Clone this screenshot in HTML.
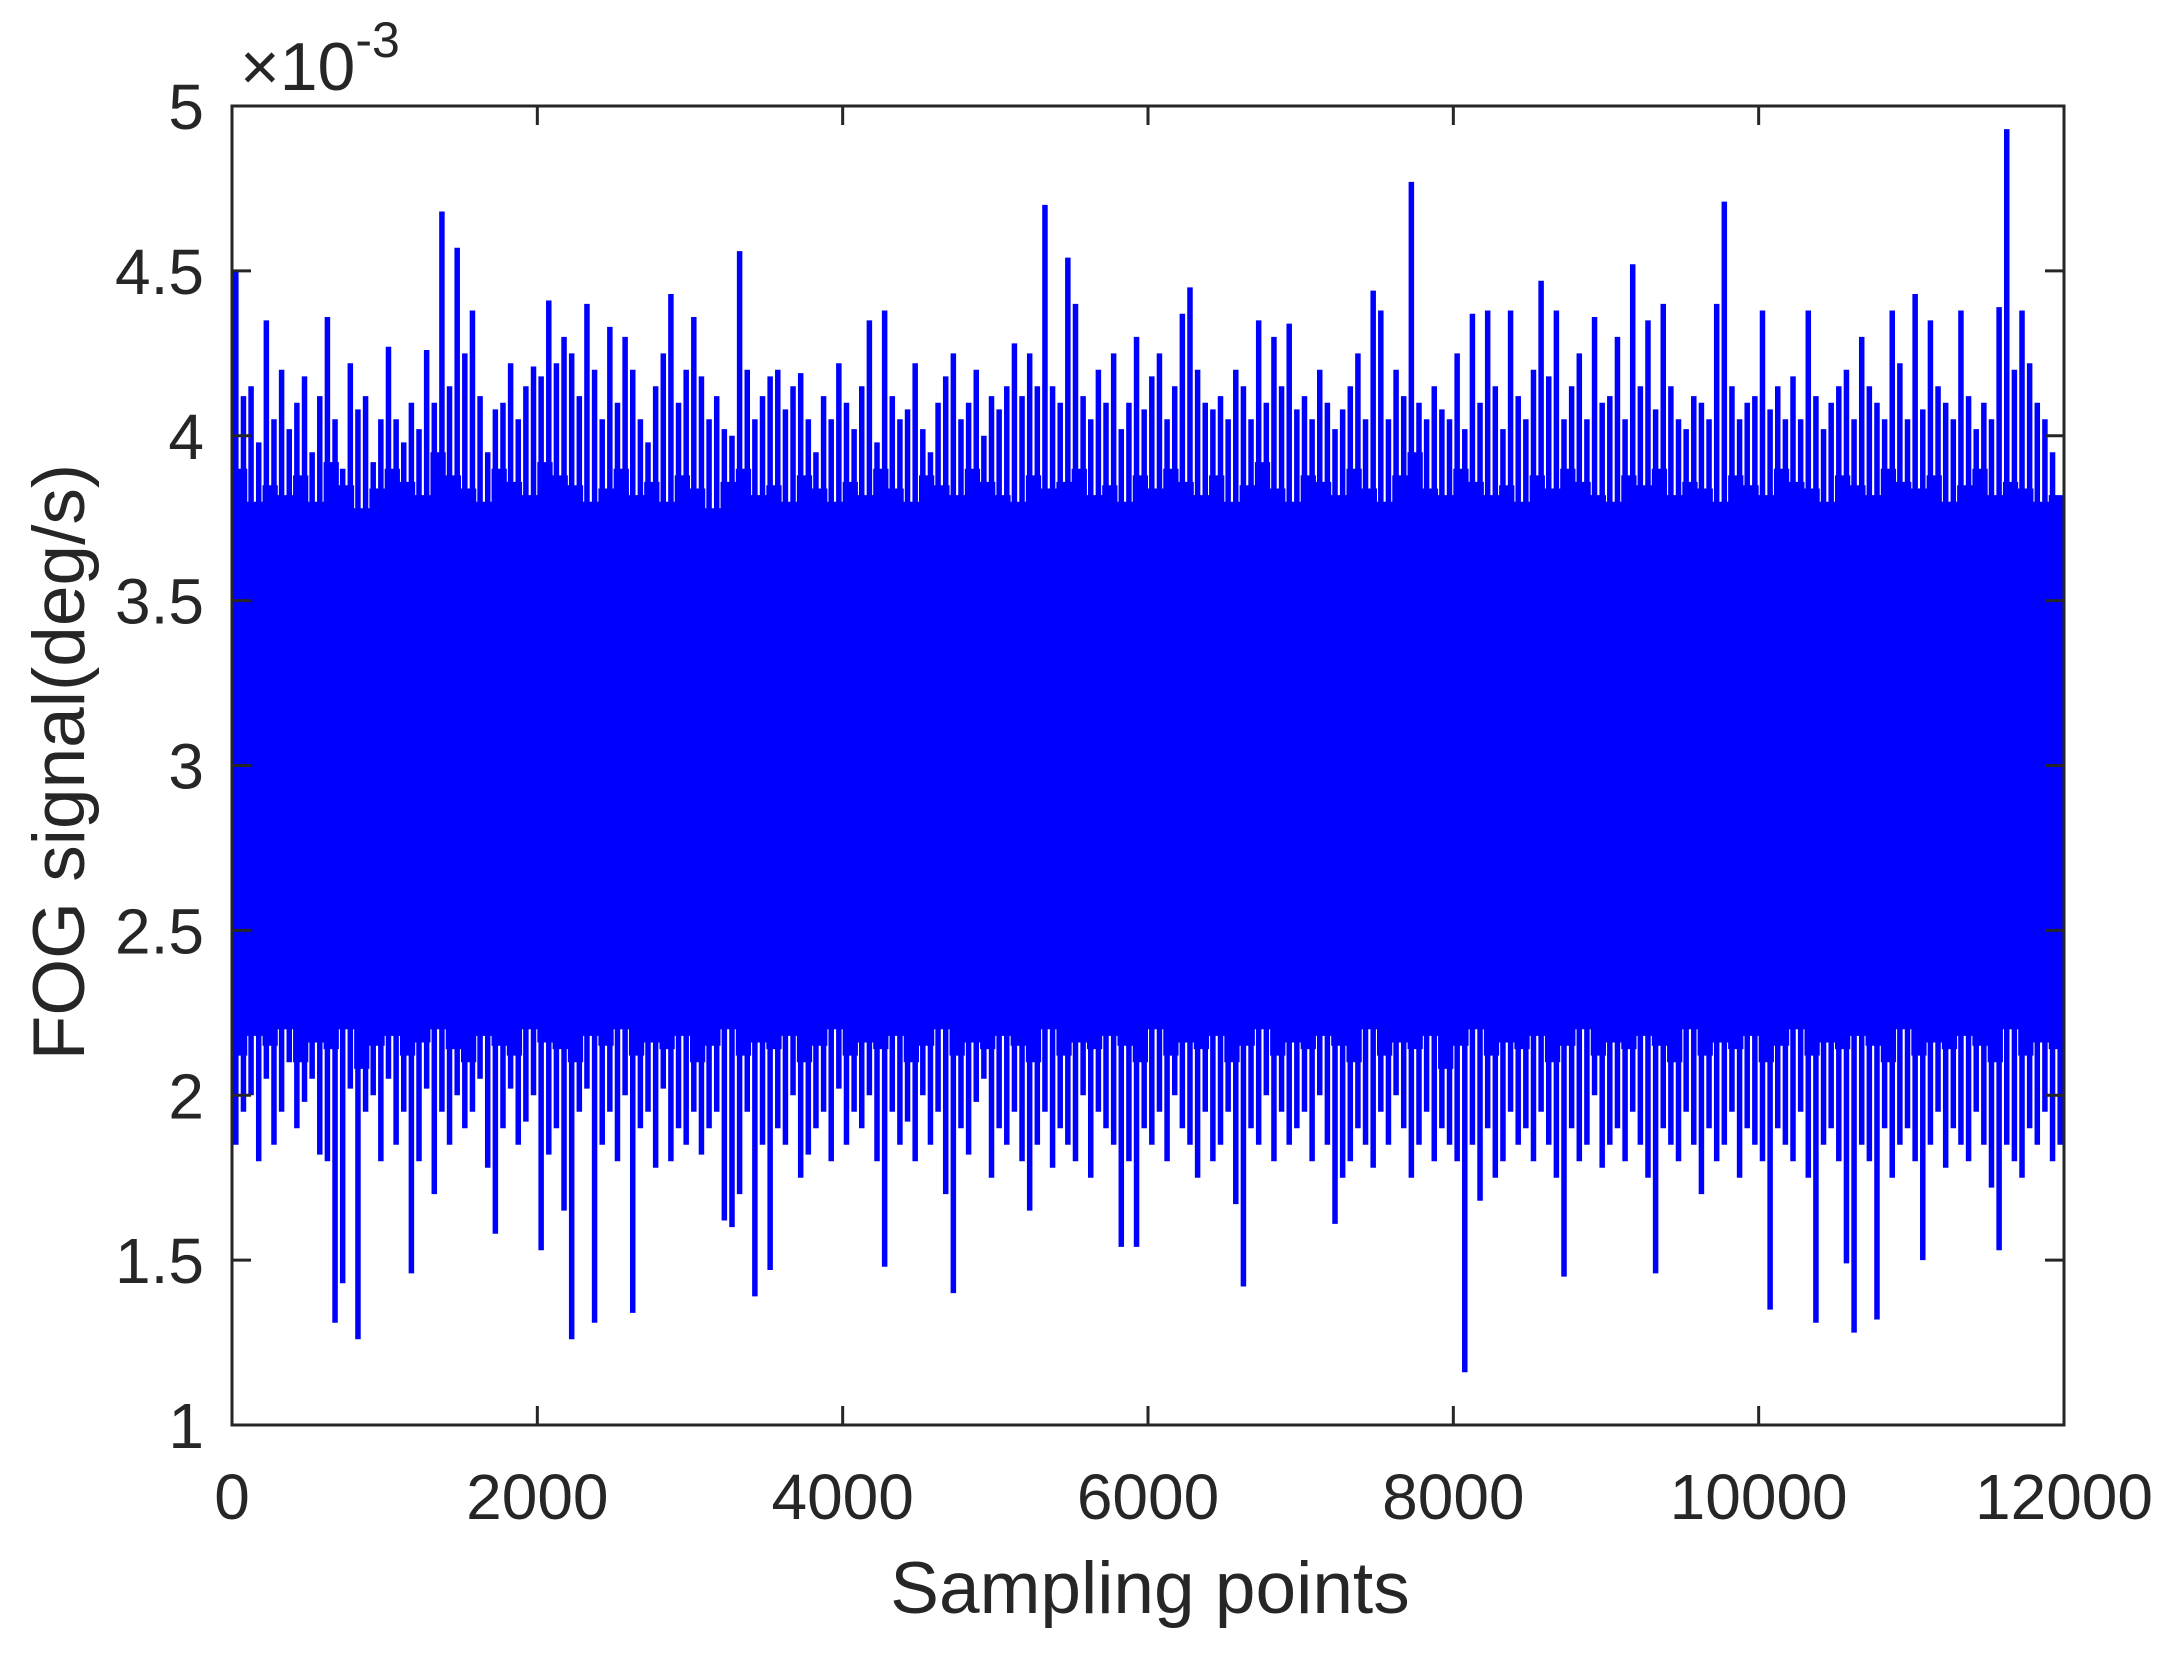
<!DOCTYPE html>
<html><head><meta charset="utf-8"><style>
html,body{margin:0;padding:0;background:#fff;}
svg text{font-family:"Liberation Sans",Arial,sans-serif;fill:#262626;}
</style></head><body>
<svg id="chart" width="2176" height="1651" viewBox="0 0 2176 1651" xmlns="http://www.w3.org/2000/svg">
<rect x="0" y="0" width="2176" height="1651" fill="#fff"/>
<g id="plot"></g>
<g id="axes"></g>
<text x="240" y="90" font-size="68">×10<tspan font-size="50" dy="-33">-3</tspan></text>
<text x="1150" y="1613" font-size="73" text-anchor="middle">Sampling points</text>
<text transform="translate(84,762) rotate(-90)" font-size="73" text-anchor="middle">FOG signal(deg/s)</text>
</svg>
<script>
const xTicks=[0,2000,4000,6000,8000,10000,12000];
const yTicks=[1,1.5,2,2.5,3,3.5,4,4.5,5];
const yTickLabels=["1","1.5","2","2.5","3","3.5","4","4.5","5"];
const binSize=50;
const hi=[4.50,4.12,4.15,3.98,4.35,4.05,4.20,4.02,4.10,4.18,3.95,4.12,4.36,4.05,3.90,4.22,4.08,4.12,3.92,4.05,
4.27,4.05,3.98,4.10,4.02,4.26,4.10,4.68,4.15,4.57,4.25,4.38,4.12,3.95,4.08,4.10,4.22,4.05,4.15,4.21,
4.18,4.41,4.22,4.30,4.25,4.12,4.40,4.20,4.05,4.33,4.10,4.30,4.20,4.05,3.98,4.15,4.25,4.43,4.10,4.20,
4.36,4.18,4.05,4.12,4.02,4.00,4.56,4.20,4.05,4.12,4.18,4.20,4.08,4.15,4.19,4.05,3.95,4.12,4.05,4.22,
4.10,4.02,4.15,4.35,3.98,4.38,4.12,4.05,4.08,4.22,4.02,3.95,4.10,4.18,4.25,4.05,4.10,4.20,4.00,4.12,
4.08,4.15,4.28,4.12,4.25,4.15,4.70,4.15,4.10,4.54,4.40,4.12,4.05,4.20,4.10,4.25,4.02,4.10,4.30,4.08,
4.18,4.25,4.05,4.15,4.37,4.45,4.20,4.10,4.08,4.12,4.05,4.20,4.15,4.05,4.35,4.10,4.30,4.15,4.34,4.08,
4.12,4.05,4.20,4.10,4.02,4.08,4.15,4.25,4.05,4.44,4.38,4.05,4.20,4.12,4.77,4.10,4.05,4.15,4.08,4.05,
4.25,4.02,4.37,4.10,4.38,4.15,4.02,4.38,4.12,4.05,4.20,4.47,4.18,4.38,4.05,4.15,4.25,4.05,4.36,4.10,
4.12,4.30,4.05,4.52,4.15,4.35,4.08,4.40,4.15,4.05,4.02,4.12,4.10,4.05,4.40,4.71,4.15,4.05,4.10,4.12,
4.38,4.08,4.15,4.05,4.18,4.05,4.38,4.12,4.02,4.10,4.15,4.20,4.05,4.30,4.15,4.10,4.05,4.38,4.22,4.05,
4.43,4.08,4.35,4.15,4.10,4.05,4.38,4.12,4.02,4.10,4.05,4.39,4.93,4.20,4.38,4.22,4.10,4.05,3.95,3.70];
const lo=[1.85,1.95,2.00,1.80,2.05,1.85,1.95,2.10,1.90,1.98,2.05,1.82,1.80,1.31,1.43,2.02,1.26,1.95,2.00,1.80,
2.05,1.85,1.95,1.46,1.80,2.02,1.70,1.95,1.85,2.00,1.90,1.95,2.05,1.78,1.58,1.90,2.02,1.85,1.92,2.00,
1.53,1.82,1.90,1.65,1.26,1.95,2.02,1.31,1.85,1.95,1.80,2.00,1.34,1.90,1.95,1.78,2.02,1.80,1.90,1.85,
1.95,1.82,1.90,1.95,1.62,1.60,1.70,1.95,1.39,1.85,1.47,1.90,1.85,2.00,1.75,1.82,1.90,1.95,1.80,2.02,
1.85,1.95,1.90,2.00,1.80,1.48,1.95,1.85,1.92,1.80,2.00,1.85,1.95,1.70,1.40,1.90,1.82,1.98,2.05,1.75,
1.90,1.85,1.95,1.80,1.65,1.85,1.95,1.78,1.90,1.85,1.80,2.00,1.75,1.95,1.90,1.85,1.54,1.80,1.54,1.90,
1.85,1.95,1.80,2.00,1.90,1.85,1.75,1.95,1.80,1.85,1.95,1.67,1.42,1.90,1.85,2.00,1.80,1.95,1.85,1.90,
1.95,1.80,2.00,1.85,1.61,1.75,1.80,1.90,1.85,1.78,1.95,1.85,2.00,1.90,1.75,1.85,1.95,1.80,1.90,1.85,
1.80,1.16,1.85,1.68,1.90,1.75,1.80,1.95,1.85,1.90,1.80,1.95,1.85,1.75,1.45,1.90,1.80,1.85,2.00,1.78,
1.85,1.90,1.80,1.95,1.85,1.75,1.46,1.90,1.85,1.80,1.95,1.85,1.70,1.90,1.80,1.85,1.95,1.75,1.90,1.85,
1.80,1.35,1.90,1.85,1.80,1.95,1.75,1.31,1.85,1.90,1.80,1.49,1.28,1.85,1.80,1.32,1.90,1.75,1.85,1.90,
1.80,1.50,1.85,1.95,1.78,1.90,1.85,1.80,1.95,1.85,1.72,1.53,1.85,1.80,1.75,1.90,1.85,1.95,1.80,1.85];
const coreBin=100;
const coreHi=[3.90,3.80,3.85,3.82,3.88,3.80,3.92,3.85,3.78,3.84,3.90,3.86,3.82,3.95,3.88,3.84,3.80,3.90,3.86,3.82,
3.92,3.88,3.85,3.80,3.84,3.90,3.82,3.86,3.80,3.88,3.84,3.78,3.86,3.90,3.82,3.85,3.80,3.88,3.84,3.80,
3.86,3.82,3.90,3.84,3.80,3.88,3.85,3.82,3.90,3.86,3.82,3.80,3.88,3.84,3.86,3.90,3.82,3.85,3.80,3.88,
3.84,3.90,3.86,3.82,3.88,3.80,3.85,3.92,3.84,3.80,3.88,3.86,3.82,3.90,3.84,3.80,3.88,3.95,3.84,3.82,
3.90,3.86,3.82,3.85,3.80,3.88,3.84,3.90,3.86,3.82,3.80,3.88,3.85,3.90,3.82,3.86,3.84,3.80,3.88,3.85,
3.82,3.90,3.86,3.84,3.80,3.88,3.85,3.82,3.90,3.86,3.84,3.88,3.80,3.85,3.90,3.82,3.86,3.84,3.80,3.82];
const coreLo=[2.12,2.18,2.15,2.20,2.10,2.16,2.14,2.20,2.08,2.15,2.18,2.12,2.16,2.20,2.14,2.10,2.18,2.15,2.12,2.20,
2.16,2.14,2.10,2.18,2.15,2.20,2.12,2.16,2.14,2.18,2.10,2.15,2.20,2.12,2.16,2.14,2.18,2.10,2.15,2.20,
2.12,2.16,2.14,2.18,2.10,2.15,2.20,2.12,2.16,2.14,2.18,2.15,2.10,2.20,2.12,2.16,2.14,2.18,2.15,2.10,
2.20,2.12,2.16,2.14,2.18,2.10,2.15,2.20,2.12,2.16,2.14,2.18,2.15,2.10,2.20,2.12,2.16,2.14,2.18,2.08,
2.15,2.20,2.12,2.16,2.14,2.18,2.10,2.15,2.20,2.12,2.16,2.14,2.18,2.15,2.10,2.20,2.12,2.16,2.14,2.18,
2.10,2.15,2.20,2.12,2.16,2.14,2.18,2.15,2.10,2.20,2.12,2.16,2.14,2.18,2.15,2.10,2.20,2.12,2.16,2.14];

const L=232,R=2064,T=106,B=1425;
const xMin=0,xMax=12000,yMin=1,yMax=5;
function sx(v){return L+(v-xMin)/(xMax-xMin)*(R-L);}
function sy(v){return B-(v-yMin)/(yMax-yMin)*(B-T);}
const NS="http://www.w3.org/2000/svg";
const plot=document.getElementById('plot');
const axes=document.getElementById('axes');
function mk(tag,attrs,parent){const e=document.createElementNS(NS,tag);for(const k in attrs)e.setAttribute(k,attrs[k]);parent.appendChild(e);return e;}

let pts=[];
for(let i=0;i<coreHi.length;i++){pts.push(sx(i*coreBin)+','+sy(coreHi[i]));pts.push(sx((i+1)*coreBin)+','+sy(coreHi[i]));}
for(let i=coreLo.length-1;i>=0;i--){pts.push(sx((i+1)*coreBin)+','+sy(coreLo[i]));pts.push(sx(i*coreBin)+','+sy(coreLo[i]));}
const core=mk('polygon',{points:pts.join(' '),fill:'#0000ff'},plot);



for(let i=0;i<hi.length;i++){
  const x=sx((i+0.5)*binSize);
  const ln=mk('line',{x1:x,x2:x,y1:sy(hi[i]),y2:sy(lo[i]),stroke:'#0000ff','stroke-width':5.5},plot);
  
  
}

const box=mk('rect',{x:L,y:T,width:R-L,height:B-T,fill:'none',stroke:'#262626','stroke-width':3},axes);



xTicks.forEach(v=>{
  const x=sx(v);
  const t1=mk('line',{x1:x,x2:x,y1:B,y2:B-19,stroke:'#262626','stroke-width':3},axes);
  
  
  const t2=mk('line',{x1:x,x2:x,y1:T,y2:T+19,stroke:'#262626','stroke-width':3},axes);
  
  
  const tx=mk('text',{x:x,y:1519,'font-size':64,'text-anchor':'middle'},axes);
  tx.textContent=String(v);
  
  
});
yTicks.forEach((v,i)=>{
  const y=sy(v);
  const t1=mk('line',{x1:L,x2:L+19,y1:y,y2:y,stroke:'#262626','stroke-width':3},axes);
  
  
  const t2=mk('line',{x1:R,x2:R-19,y1:y,y2:y,stroke:'#262626','stroke-width':3},axes);
  
  
  const tx=mk('text',{x:204,y:y+23,'font-size':64,'text-anchor':'end'},axes);
  tx.textContent=yTickLabels[i];
  
  
});
</script>
</body></html>
